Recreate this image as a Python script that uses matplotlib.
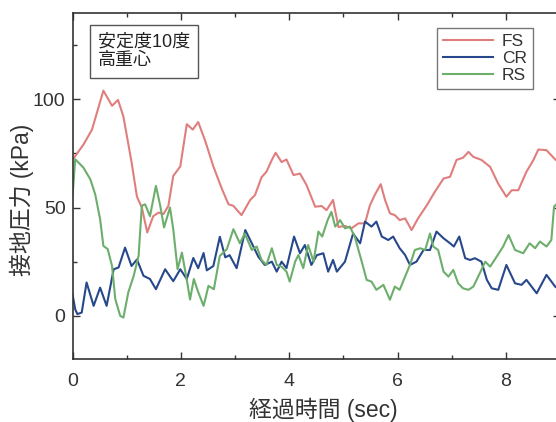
import matplotlib
matplotlib.use("Agg")
import matplotlib.pyplot as plt
from matplotlib.ticker import MultipleLocator

plt.rcParams["font.family"] = ["Liberation Sans", "Noto Sans CJK JP"]

# time (sec) and contact pressure (kPa)
t_fs = [0, 0.2, 0.36, 0.57, 0.73, 0.84, 0.94, 1.09, 1.19, 1.28,
        1.38, 1.49, 1.59, 1.68, 1.77, 1.86, 1.99, 2.11, 2.22, 2.32,
        2.45, 2.6, 2.76, 2.88, 2.97, 3.12, 3.28, 3.37, 3.49, 3.58,
        3.68, 3.75, 3.86, 3.95, 4.08, 4.2, 4.32, 4.48, 4.6, 4.69,
        4.81, 4.91, 5.03, 5.15, 5.28, 5.4, 5.49, 5.58, 5.69, 5.77,
        5.86, 5.95, 6.04, 6.14, 6.26, 6.38, 6.54, 6.69, 6.85, 6.97,
        7.09, 7.21, 7.31, 7.4, 7.55, 7.71, 7.86, 8.01, 8.11, 8.23,
        8.38, 8.51, 8.6, 8.75, 8.92, 9.0]
fs = [72, 79, 86, 104, 97, 99.7, 92, 71, 55, 50,
      38.5, 46, 47.7, 47, 50.8, 64.6, 69, 88.5, 86, 89.5,
      80.8, 69, 58.5, 51.5, 50.8, 46.5, 53.5, 55.8, 64, 66.5,
      72, 75.3, 71, 72.2, 65, 65.7, 60.4, 50.4, 50.7, 48.8,
      53.5, 41, 41.5, 40.4, 42.7, 42.7, 51, 55.8, 60.8, 53.5,
      47.3, 46.5, 44.2, 45, 39.6, 45, 51, 57.3, 63.4, 64.2,
      72, 73, 75.7, 73.4, 72, 68.8, 61, 55, 58, 58,
      66.5, 72, 76.8, 76.5, 72, 71]

t_cr = [0, 0.05, 0.09, 0.17, 0.26, 0.39, 0.51, 0.63, 0.76, 0.85,
        0.97, 1.09, 1.19, 1.31, 1.43, 1.54, 1.71, 1.86, 1.99, 2.11,
        2.23, 2.32, 2.42, 2.48, 2.6, 2.72, 2.82, 2.9, 3.03, 3.19,
        3.31, 3.43, 3.55, 3.68, 3.77, 3.86, 3.95, 4.09, 4.2, 4.29,
        4.41, 4.51, 4.63, 4.72, 4.81, 4.88, 5.03, 5.18, 5.31, 5.4,
        5.52, 5.61, 5.71, 5.83, 5.92, 6.04, 6.14, 6.23, 6.35, 6.48,
        6.6, 6.72, 6.85, 6.97, 7.04, 7.14, 7.25, 7.34, 7.43, 7.55,
        7.65, 7.74, 7.86, 8.01, 8.17, 8.29, 8.38, 8.57, 8.75, 8.91,
        9.0]
cr = [10, 3, 0.8, 1.5, 15.4, 4.6, 13, 4.6, 21.5, 22.3,
      31.5, 23, 26, 18.5, 17, 12.3, 21.5, 16, 21.5, 17,
      26.7, 22, 29, 21, 23, 36.5, 27, 28, 22, 39.6,
      33.5, 27.3, 23.5, 25, 20.4, 25, 22, 36.6, 28.9, 32.7,
      23.5, 28, 28.9, 20.4, 25.8, 20.4, 25, 38, 33.5, 43.5,
      41.2, 43.5, 36.6, 35, 36.6, 31.2, 28.1, 23.5, 25, 30.4,
      30.4, 38.9, 35.8, 33.5, 32, 36.6, 26.6, 25.8, 26.6, 25,
      16.6, 12.7, 12, 23.5, 15, 14.3, 16.6, 10.4, 18.9, 13.5,
      12]

t_rs = [0, 0.05, 0.2, 0.33, 0.42, 0.51, 0.57, 0.65, 0.73, 0.79,
        0.88, 0.94, 1.03, 1.13, 1.22, 1.28, 1.34, 1.43, 1.54, 1.62,
        1.69, 1.8, 1.86, 1.94, 2.02, 2.11, 2.17, 2.24, 2.32, 2.42,
        2.51, 2.61, 2.72, 2.85, 2.97, 3.09, 3.18, 3.31, 3.4, 3.49,
        3.58, 3.68, 3.77, 3.86, 3.95, 4.01, 4.11, 4.17, 4.26, 4.35,
        4.45, 4.54, 4.61, 4.71, 4.78, 4.85, 4.94, 5.03, 5.12, 5.21,
        5.34, 5.43, 5.52, 5.61, 5.74, 5.86, 5.95, 6.04, 6.14, 6.23,
        6.32, 6.42, 6.51, 6.6, 6.66, 6.75, 6.85, 6.94, 7.03, 7.12,
        7.21, 7.31, 7.4, 7.52, 7.62, 7.71, 7.83, 7.95, 8.05, 8.17,
        8.32, 8.44, 8.54, 8.63, 8.75, 8.84, 8.89, 8.95]
rs = [55, 72.3, 68.5, 63, 56, 44.6, 32.3, 30.8, 23, 7.7,
      0, -0.8, 10.8, 18.5, 27.7, 50.8, 51.5, 46, 60, 50.8,
      40.8, 50, 40, 21.5, 29.2, 16.6, 7.5, 17, 11, 4.6,
      13.8, 12.3, 27.7, 30.8, 40, 33.5, 38, 30.4, 32, 25.8,
      23.5, 31.2, 23.5, 22.7, 20.4, 15.8, 25, 28.1, 22, 32.7,
      25, 38.9, 36.6, 44.2, 48, 41.2, 44.2, 40.4, 41.2, 36.6,
      25, 16.6, 15.8, 12, 14.3, 7.4, 13.5, 12, 18.1, 23.5,
      30.4, 31.2, 30.4, 38, 32, 30.4, 20.4, 18.1, 21.2, 15,
      12.7, 12, 13.5, 19.7, 25, 22.7, 27.3, 32, 37.3, 30.4,
      28.9, 33.5, 31.2, 34.3, 32, 35, 50.4, 52]

x_ticks = [0, 2, 4, 6, 8]
y_ticks = [0, 50, 100]

fig = plt.figure(figsize=(5.56, 4.22), dpi=100)
# the right spine sits just past the image edge, as in the cropped original
ax = fig.add_axes([0.1304, 0.149, 0.8768, 0.821])

ax.plot(t_fs, fs, color="#e07e7e", lw=1.5, label="FS")
ax.plot(t_cr, cr, color="#27488a", lw=1.5, label="CR")
ax.plot(t_rs, rs, color="#6cae6c", lw=1.5, label="RS")

ax.set_xlim(0, 9)
ax.set_ylim(-20, 140)
ax.set_xticks(x_ticks)
ax.set_yticks(y_ticks)
ax.xaxis.set_minor_locator(MultipleLocator(1))
ax.yaxis.set_minor_locator(MultipleLocator(25))
ax.tick_params(which="both", direction="in", top=True, right=True,
               labelsize=14, colors="#333333", width=1.0)
ax.tick_params(axis="x", which="major", length=5, pad=10)
ax.tick_params(axis="y", which="major", length=5, pad=5)
ax.tick_params(which="minor", length=3)
for side in ax.spines.values():
    side.set_color("#333333")
    side.set_linewidth(1.2)

ax.set_xlabel("経過時間 (sec)", fontsize=16.5, color="#333333")
ax.set_ylabel("接地圧力 (kPa)", fontsize=16.5, color="#333333")
ax.xaxis.set_label_coords(0.514, -0.112)
ax.yaxis.set_label_coords(-0.078, 0.46)

ax.text(0.052, 0.94, "安定度10度\n高重心", transform=ax.transAxes,
        fontsize=13, va="top", ha="left", linespacing=1.15, color="#222222",
        bbox=dict(boxstyle="square,pad=0.45", fc="white", ec="#555555", lw=1.0))

leg = ax.legend(loc="upper right", bbox_to_anchor=(0.945, 0.956),
                borderaxespad=0, fancybox=False, fontsize=12.5,
                handlelength=2.9, labelspacing=0.1, borderpad=0.35,
                handletextpad=0.5)
leg.get_frame().set_edgecolor("#555555")
leg.get_frame().set_linewidth(1.0)
for txt in leg.get_texts():
    txt.set_color("#333333")

fig.savefig("out.png", dpi=100)
